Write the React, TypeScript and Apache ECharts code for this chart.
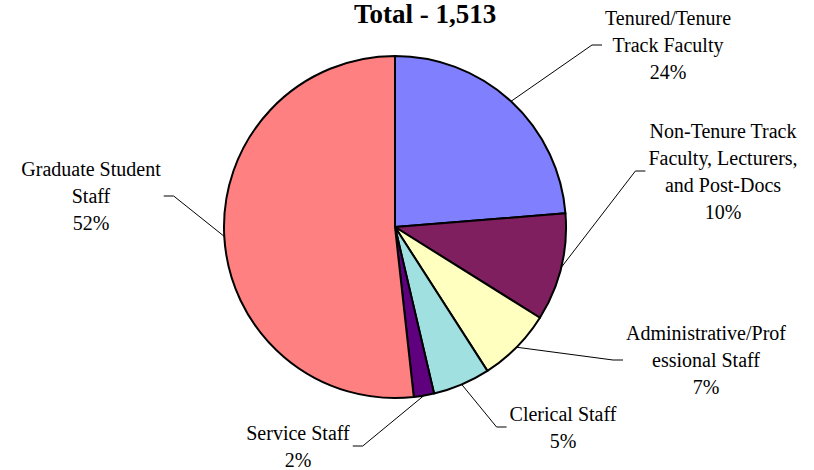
import React, { useEffect, useRef } from "react";
import * as echarts from "echarts";

const categories = [
  "Tenured/Tenure\nTrack Faculty",
  "Non-Tenure Track\nFaculty, Lecturers,\nand Post-Docs",
  "Administrative/Prof\nessional Staff",
  "Clerical Staff",
  "Service Staff",
  "Graduate Student\nStaff",
];
const counts = [359, 154, 106, 82, 29, 783];
const colors = ["#8080FF", "#7F1F5F", "#FFFFC0", "#A0E0E0", "#5F007F", "#FF8080"];
const titleText = "Total - 1,513";

// label block centres and side of leader line (layout, not data)
const labelPos: { x: number; y: number; side: "left" | "right" }[] = [
  { x: 668, y: 45, side: "left" },
  { x: 723, y: 171, side: "left" },
  { x: 706, y: 360, side: "left" },
  { x: 563, y: 427, side: "left" },
  { x: 298, y: 446, side: "right" },
  { x: 91, y: 196, side: "right" },
];

const FONT = '"Liberation Serif", "Times New Roman", serif';

export default function App() {
  const ref = useRef<HTMLDivElement>(null);
  useEffect(() => {
    if (!ref.current) return;
    const chart = echarts.init(ref.current, undefined, { renderer: "svg" });
    chart.setOption({
      animation: false,
      backgroundColor: "#ffffff",
      title: {
        text: titleText,
        left: 349,
        top: -5,
        textStyle: {
          fontFamily: FONT,
          fontSize: 27,
          fontWeight: "bold",
          color: "#000",
        },
      },
      series: [
        {
          type: "pie",
          center: [395, 227],
          radius: 171,
          startAngle: 90,
          clockwise: true,
          avoidLabelOverlap: false,
          percentPrecision: 0,
          itemStyle: { borderColor: "#000", borderWidth: 2 },
          label: {
            show: true,
            position: "outside",
            formatter: "{b}\n{d}%",
            fontFamily: FONT,
            fontSize: 20,
            lineHeight: 27,
            color: "#000",
            align: "center",
          },
          labelLine: {
            show: true,
            length: 10,
            length2: 10,
            lineStyle: { color: "#000", width: 1 },
          },
          labelLayout: (params: any) => {
            const p = labelPos[params.dataIndex];
            const w = params.labelRect.width;
            const start = params.labelLinePoints
              ? params.labelLinePoints[0]
              : [p.x, p.y];
            let endX: number, bendX: number;
            if (p.side === "left") {
              endX = p.x - w / 2 - 3;
              bendX = endX - 10;
            } else {
              endX = p.x + w / 2 + 3;
              bendX = endX + 10;
            }
            return {
              x: p.x,
              y: p.y,
              align: "center",
              verticalAlign: "middle",
              labelLinePoints: [
                [start[0], start[1]],
                [bendX, p.y],
                [endX, p.y],
              ],
            };
          },
          data: categories.map((name, i) => ({
            name,
            value: counts[i],
            itemStyle: { color: colors[i] },
          })),
        },
      ],
    });
    return () => chart.dispose();
  }, []);
  return (
    <div
      ref={ref}
      style={{ position: "fixed", left: 0, top: 0, width: 814, height: 470 }}
    />
  );
}
